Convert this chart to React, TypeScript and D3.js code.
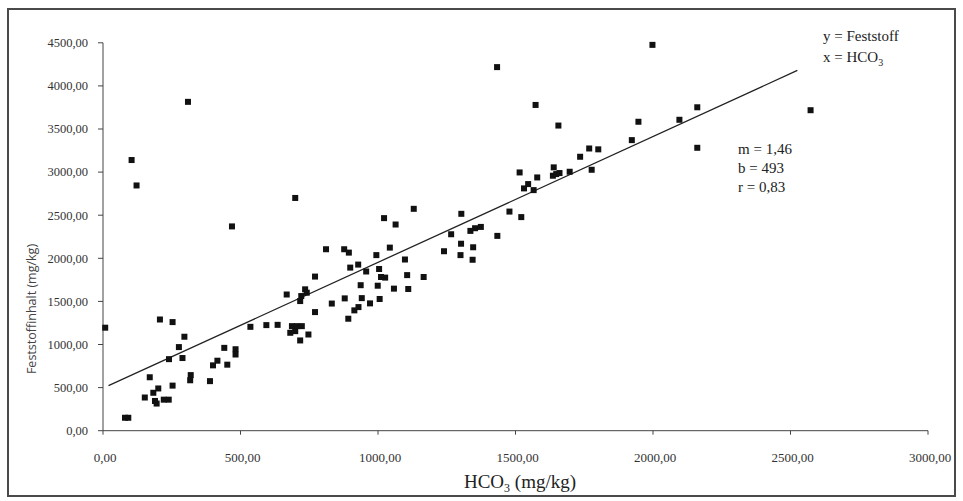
import React from 'react';
import * as d3 from 'd3';

// HCO3 (mg/kg) values of the samples
const hco3 = [
  8, 80, 92, 104, 122, 309, 469, 699, 207, 253, 296, 276, 240, 289, 170, 152, 183, 189, 195, 201,
  221, 239, 253, 319, 317, 389, 400, 416, 441, 452, 482, 482, 536, 594, 635, 668, 687, 705, 723, 681,
  699, 747, 717, 735, 741, 721, 717, 771, 771, 832, 879, 941, 929, 914, 971, 1006, 892, 937, 999, 1058,
  1110, 1011, 1026, 1098, 1106, 1166, 1004, 957, 928, 899, 994, 1043, 811, 877, 894, 1022, 1064, 1130, 1303, 1266,
  1336, 1353, 1374, 1240, 1302, 1346, 1300, 1344, 1434, 1478, 1521, 1515, 1546, 1531, 1566, 1579, 1639, 1660, 1636, 1648,
  1697, 1735, 1768, 1801, 1777, 1923, 1947, 1656, 1573, 1433, 1998, 2096, 2161, 2161, 2573,
];

// Feststoff (mg/kg) values of the same samples
const feststoff = [
  1195, 150, 150, 3140, 2845, 3815, 2370, 2700, 1290, 1260, 1090, 970, 830, 843, 620, 385, 440, 345, 315, 490,
  360, 360, 523, 645, 585, 575, 758, 812, 961, 766, 945, 884, 1205, 1225, 1228, 1580, 1213, 1213, 1213, 1136,
  1155, 1116, 1047, 1640, 1601, 1562, 1504, 1788, 1376, 1475, 1535, 1538, 1434, 1396, 1477, 1528, 1299, 1688, 1682, 1648,
  1644, 1783, 1776, 1986, 1805, 1783, 1876, 1847, 1927, 1892, 2037, 2124, 2105, 2105, 2066, 2466, 2392, 2574, 2516, 2279,
  2318, 2349, 2364, 2082, 2169, 2128, 2037, 1983, 2260, 2542, 2478, 2996, 2861, 2811, 2791, 2938, 3055, 2989, 2958, 2977,
  3004, 3178, 3274, 3264, 3027, 3371, 3584, 3540, 3779, 4218, 4476, 3607, 3752, 3282, 3718,
];

const xTicks = [0, 500, 1000, 1500, 2000, 2500, 3000];
const yTicks = [0, 500, 1000, 1500, 2000, 2500, 3000, 3500, 4000, 4500];

const slope = 1.46;
const intercept = 493;
const rValue = '0,83';
const fitRange = [20, 2525];

const fmt = (v: number) => d3.format('.2f')(v).replace('.', ',');

export default function App() {
  const W = 963;
  const H = 501;
  const x = d3.scaleLinear().domain([0, 3000]).range([103, 928]);
  const y = d3.scaleLinear().domain([0, 4500]).range([430.7, 42.8]);
  const line = d3
    .line<number>()
    .x((d) => x(d))
    .y((d) => y(intercept + slope * d));
  const serif = '"Liberation Serif", "DejaVu Serif", serif';
  const sans = '"Open Sans", "Noto Sans", sans-serif';
  const axisColor = '#444';

  return (
    <svg
      width={W}
      height={H}
      viewBox={`0 0 ${W} ${H}`}
      style={{ position: 'absolute', left: 0, top: 0, background: '#fff' }}
    >
      <rect x={0} y={0} width={W} height={H} fill="#fff" />
      <rect x={8} y={9} width={947} height={487} fill="#fff" stroke="#4a4a4a" strokeWidth={2} />

      {/* y axis */}
      <line x1={x(0)} x2={x(0)} y1={y(0)} y2={y(4500)} stroke={axisColor} strokeWidth={1} />
      {yTicks.map((t) => (
        <g key={'y' + t}>
          <line x1={x(0) - 5} x2={x(0)} y1={y(t)} y2={y(t)} stroke={axisColor} strokeWidth={1} />
          <text
            x={88}
            y={y(t)}
            dy="0.35em"
            textAnchor="end"
            fontFamily={serif}
            fontSize={12.5}
            fill="#333"
          >
            {fmt(t)}
          </text>
        </g>
      ))}

      {/* x axis */}
      <line x1={x(0)} x2={x(3000)} y1={y(0)} y2={y(0)} stroke={axisColor} strokeWidth={1} />
      {xTicks.map((t) => (
        <g key={'x' + t}>
          <line x1={x(t)} x2={x(t)} y1={y(0)} y2={y(0) + 4} stroke={axisColor} strokeWidth={1} />
          <text
            x={x(t) + 2}
            y={457}
            dy="0.35em"
            textAnchor="middle"
            fontFamily={serif}
            fontSize={13}
            fill="#333"
          >
            {fmt(t)}
          </text>
        </g>
      ))}

      {/* axis titles */}
      <text
        transform={`translate(32, 309) rotate(-90)`}
        textAnchor="middle"
        dy="0.35em"
        fontFamily={sans}
        fontSize={12.5}
        fill="#444"
      >
        Feststoffinhalt (mg/kg)
      </text>
      <text x={520} y={481} dy="0.35em" textAnchor="middle" fontFamily={serif} fontSize={19} fill="#222">
        HCO<tspan fontSize={12} dy="4">3</tspan>
        <tspan dy="-4"> (mg/kg)</tspan>
      </text>

      {/* regression line */}
      <path d={line(fitRange) || ''} fill="none" stroke="#222" strokeWidth={1.3} />

      {/* points */}
      {hco3.map((v, i) => (
        <rect
          key={'p' + i}
          x={x(v) - 3}
          y={y(feststoff[i]) - 3}
          width={6}
          height={6}
          fill="#111"
        />
      ))}

      {/* annotations */}
      <g fontFamily={serif} fontSize={15} fill="#222">
        <text x={823} y={36} dy="0.35em">y = Feststoff</text>
        <text x={823} y={57} dy="0.35em">
          x = HCO<tspan fontSize={10} dy="4">3</tspan>
        </text>
        <text x={738} y={149} dy="0.35em">m = {String(slope).replace('.', ',')}</text>
        <text x={738} y={168} dy="0.35em">b = {intercept}</text>
        <text x={738} y={187} dy="0.35em">r = {rValue}</text>
      </g>
    </svg>
  );
}
